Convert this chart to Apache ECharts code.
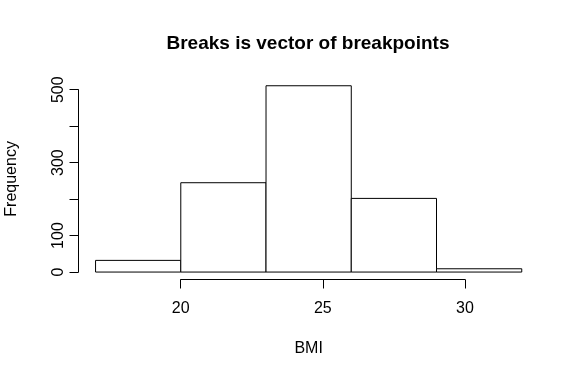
<!DOCTYPE html>
<html>
<head>
<meta charset="utf-8">
<script src="https://cdn.jsdelivr.net/npm/echarts@6/dist/echarts.min.js"></script>
<style>
  html, body { margin: 0; padding: 0; background: #fff; }
  #main { width: 579px; height: 378px; }
</style>
</head>
<body>
<div id="main"></div>
<script>
// histogram data
var breaks = [17, 20, 23, 26, 29, 32];
var counts = [32, 245, 511, 202, 9];
var xTicks = [20, 25, 30];
var yTicks = [0, 100, 200, 300, 400, 500];
var yShown = [0, 100, 300, 500]; // R drops the labels that would overlap

var bins = [];
for (var i = 0; i < counts.length; i++) {
  bins.push([breaks[i], breaks[i + 1], counts[i]]);
}

var font = "Liberation Sans, Arial, sans-serif";
var myChart = echarts.init(document.getElementById("main"));

var option = {
  animation: false,
  title: {
    text: "Breaks is vector of breakpoints",
    left: 303,
    top: 29,
    textAlign: "center",
    textStyle: { fontFamily: font, fontSize: 19, fontWeight: "bold", color: "#000" },
  },
  grid: [
    // plot region (R adds 4% on each side)
    { left: 78.5, right: 40.2, top: 78.3, bottom: 98.5, outerBoundsMode: "none" },
    // x axis drawn only from first to last tick
    { left: 180.7, right: 114, top: 200, bottom: 98.5, outerBoundsMode: "none" },
    // y axis drawn only from first to last tick
    { left: 78.5, right: 300, top: 89.7, bottom: 106, outerBoundsMode: "none" },
  ],
  xAxis: [
    {
      gridIndex: 0,
      type: "value",
      min: 16.4,
      max: 32.6,
      name: "BMI",
      nameLocation: "middle",
      nameGap: 61,
      nameTextStyle: { fontFamily: font, fontSize: 16, color: "#000" },
      axisLine: { show: false },
      axisTick: { show: false },
      axisLabel: { show: false },
      splitLine: { show: false },
    },
    {
      gridIndex: 1,
      type: "value",
      min: xTicks[0],
      max: xTicks[xTicks.length - 1],
      interval: 5,
      axisLine: { lineStyle: { color: "#000", width: 1 } },
      axisTick: { length: 9, lineStyle: { color: "#000" } },
      axisLabel: { margin: 21, fontFamily: font, fontSize: 16, color: "#000" },
      splitLine: { show: false },
    },
    { gridIndex: 2, type: "value", show: false },
  ],
  yAxis: [
    {
      gridIndex: 0,
      type: "value",
      min: -20.44,
      max: 531.44,
      name: "Frequency",
      nameLocation: "middle",
      nameGap: 59,
      nameTextStyle: { fontFamily: font, fontSize: 16, color: "#000" },
      axisLine: { show: false },
      axisTick: { show: false },
      axisLabel: { show: false },
      splitLine: { show: false },
    },
    { gridIndex: 1, type: "value", show: false },
    {
      gridIndex: 2,
      type: "value",
      min: yTicks[0],
      max: yTicks[yTicks.length - 1],
      interval: 100,
      axisLine: { show: true, lineStyle: { color: "#000", width: 1 } },
      axisTick: { show: true, length: 9, lineStyle: { color: "#000" } },
      axisLabel: {
        rotate: 90,
        margin: 12,
        fontFamily: font,
        fontSize: 16,
        color: "#000",
        formatter: function (v) {
          return yShown.indexOf(v) >= 0 ? String(v) : "";
        },
      },
      splitLine: { show: false },
    },
  ],
  series: [
    {
      type: "custom",
      xAxisIndex: 0,
      yAxisIndex: 0,
      clip: false,
      data: bins,
      renderItem: function (params, api) {
        var p0 = api.coord([api.value(0), api.value(2)]);
        var p1 = api.coord([api.value(1), 0]);
        return {
          type: "rect",
          shape: { x: p0[0], y: p0[1], width: p1[0] - p0[0], height: p1[1] - p0[1] },
          style: { fill: "#fff", stroke: "#000", lineWidth: 1 },
        };
      },
    },
  ],
};

myChart.setOption(option);
</script>
</body>
</html>
